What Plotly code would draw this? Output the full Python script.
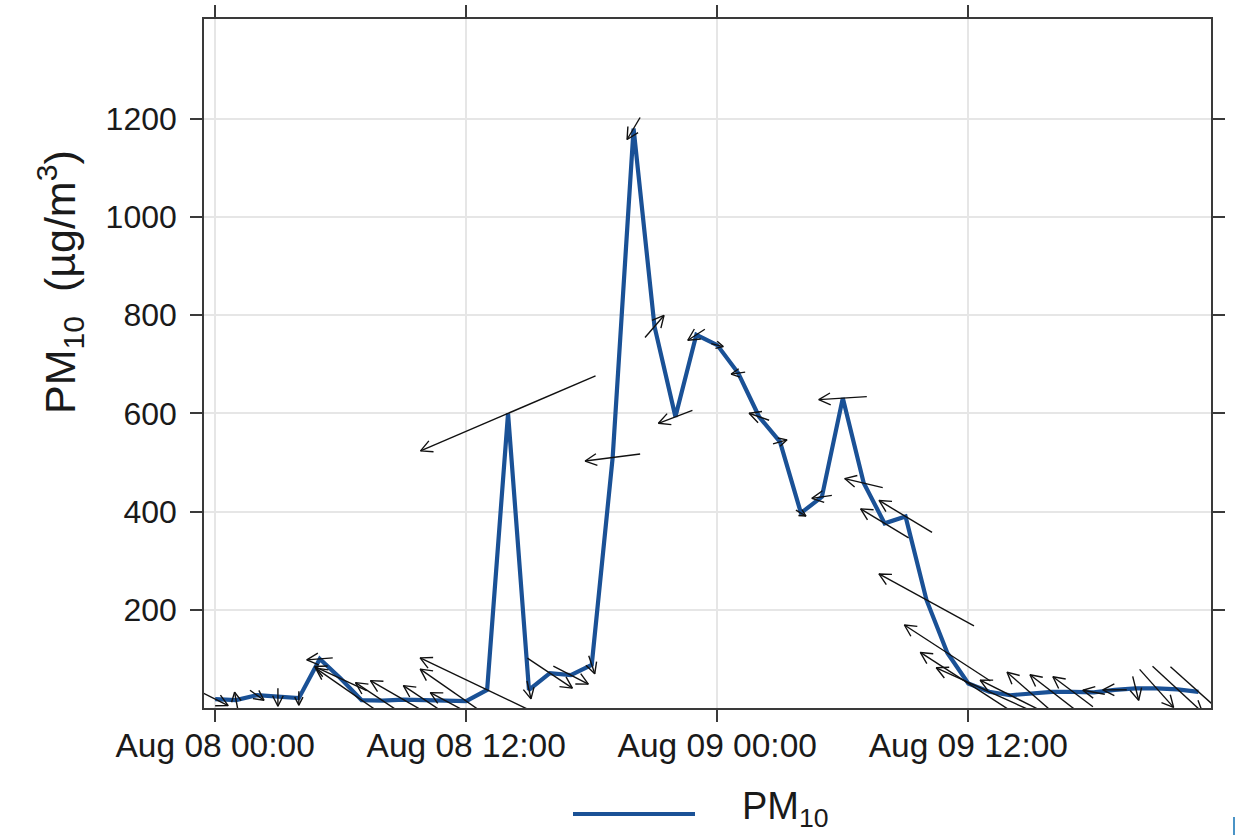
import math
import pandas as pd
import plotly.graph_objects as go

# Hourly PM10 concentration (µg/m³), 8–9 August
times = pd.date_range("2019-08-08 00:00", periods=48, freq="h")
pm10 = [18, 16, 26, 22, 20, 100, 60, 16, 15, 17, 17, 15, 14, 37, 600, 37,
        71, 67, 88, 510, 1180, 777, 593, 760, 739, 682, 593, 542, 397, 430,
        631, 458, 376, 390, 220, 112, 50, 33, 26, 30, 33, 33, 32, 37, 40, 40,
        38, 33]

# Hourly wind vector components (m/s): u = eastward, v = northward
wind_u = [1.3, -0.15, 0.7, 0.0, 0.0, -1.3, -2.6, -4.6, -2.7, -3.3, -2.1, -1.5,
          -4.6, -6.7, -8.75, 0.2, 2.25, 1.75, 0.3, -2.75, -0.65, 0.95, -1.7,
          -0.85, 0.6, -0.7, -1.0, 0.7, 0.5, -1.0, -2.4, -1.9, -2.4, -2.65,
          -4.75, -4.3, -4.8, -5.3, -3.0, -2.4, -2.2, -2.0, -1.1, -1.2, 0.3,
          1.7, 2.5, 2.8]
wind_v = [-0.65, 0.8, -0.5, -0.9, -0.7, -0.1, 1.2, 3.2, 1.8, 1.9, 1.4, 0.8,
          3.2, 3.2, -3.75, -0.9, -1.5, -0.9, -0.9, -0.35, -1.1, 1.1, -0.65,
          -0.55, -0.15, -0.1, 0.35, 0.2, -0.3, -0.15, -0.15, 0.45, 1.45, 1.6,
          2.6, 2.8, 3.1, 2.4, 1.5, 2.1, 1.7, 1.5, 0.2, 0.0, -1.2, -1.9, -2.3,
          -2.5]

tick_times = [times[0], times[12], times[24], times[36]]
tick_labels = ["Aug 08 00:00", "Aug 08 12:00", "Aug 09 00:00", "Aug 09 12:00"]
y_ticks = [200, 400, 600, 800, 1000, 1200]

# Figure geometry
W, H = 1237, 835
M = dict(l=204, r=26, t=19, b=127)
plot_w = W - M["l"] - M["r"]
plot_h = H - M["t"] - M["b"]
x_lo = times[0] - pd.Timedelta(minutes=32)
x_hi = times[0] + pd.Timedelta(minutes=int(47.6 * 60))
y_lo, y_hi = 0, 1403

px_per_ms = plot_w / ((x_hi - x_lo).total_seconds() * 1000.0)
px_per_ug = plot_h / (y_hi - y_lo)

ARROW_SCALE = 20.0   # pixels per m/s
HEAD_LEN = 13.0      # pixels
HEAD_ANG = math.radians(27)


def offset_point(t, val, dx_px, dy_px):
    """Shift a data point by a screen-pixel offset (dy_px positive = up)."""
    return (t + pd.Timedelta(milliseconds=dx_px / px_per_ms),
            val + dy_px / px_per_ug)


arrow_x, arrow_y = [], []
for t, val, u, v in zip(times, pm10, wind_u, wind_v):
    vx, vy = u * ARROW_SCALE, v * ARROW_SCALE      # screen vector, y up
    length = math.hypot(vx, vy)
    if length < 1e-6:
        continue
    tail = offset_point(t, val, -vx / 2, -vy / 2)
    head = offset_point(t, val, vx / 2, vy / 2)
    arrow_x += [tail[0], head[0], None]
    arrow_y += [tail[1], head[1], None]
    # open arrow head: two barbs swept back from the tip
    ang = math.atan2(vy, vx)
    hl = min(HEAD_LEN, 0.65 * length)
    barbs = []
    for s in (1, -1):
        a = ang + math.pi + s * HEAD_ANG
        barbs.append(offset_point(t, val,
                                  vx / 2 + hl * math.cos(a),
                                  vy / 2 + hl * math.sin(a)))
    arrow_x += [barbs[0][0], head[0], barbs[1][0], None]
    arrow_y += [barbs[0][1], head[1], barbs[1][1], None]

LINE_BLUE = "#1a5196"
AXIS_COL = "#3a3a3a"
GRID_COL = "#e6e6e6"
FONT = "Liberation Sans, Arial, sans-serif"

fig = go.Figure()
fig.add_trace(go.Scatter(
    x=times, y=pm10, mode="lines", name="PM10",
    line=dict(color=LINE_BLUE, width=4.2), showlegend=False,
))
fig.add_trace(go.Scatter(
    x=arrow_x, y=arrow_y, mode="lines", name="wind",
    line=dict(color="#111111", width=1.4), showlegend=False,
    hoverinfo="skip",
))

axis_common = dict(
    showline=True, linecolor=AXIS_COL, linewidth=1.6, mirror="allticks",
    ticks="outside", ticklen=12, tickwidth=1.6, tickcolor=AXIS_COL,
    showgrid=True, gridcolor=GRID_COL, gridwidth=2, zeroline=False,
    automargin=False,
)

fig.update_xaxes(
    type="date", range=[x_lo, x_hi], tickmode="array",
    tickvals=tick_times, ticktext=tick_labels, ticklabelstandoff=-5,
    tickfont=dict(family=FONT, size=33.5, color="#1a1a1a"),
    **axis_common,
)
fig.update_yaxes(
    range=[y_lo, y_hi], tickmode="array", tickvals=y_ticks,
    ticklabelstandoff=7,
    tickfont=dict(family=FONT, size=32, color="#1a1a1a"),
    **axis_common,
)

# Y-axis title
fig.add_annotation(
    text="PM<sub>10</sub>\u00a0\u00a0(µg/m<sup>3</sup>)",
    xref="paper", yref="paper", x=(60 - M["l"]) / plot_w,
    y=(M["t"] + plot_h - 282) / plot_h, textangle=-90,
    showarrow=False, xanchor="center", yanchor="middle",
    font=dict(family=FONT, size=43, color="#1a1a1a"),
)

# Legend key
leg_y = (M["t"] + plot_h - 814) / plot_h
fig.add_shape(
    type="line", xref="paper", yref="paper",
    x0=(573 - M["l"]) / plot_w, x1=(695 - M["l"]) / plot_w,
    y0=leg_y, y1=leg_y, line=dict(color=LINE_BLUE, width=4),
)
fig.add_annotation(
    text="PM<sub>10</sub>", xref="paper", yref="paper",
    x=(740 - M["l"]) / plot_w, y=(M["t"] + plot_h - 809) / plot_h,
    xanchor="left", yanchor="middle", showarrow=False,
    font=dict(family=FONT, size=38, color="#1a1a1a"),
)
# small mark at lower-right corner
fig.add_shape(
    type="line", xref="paper", yref="paper",
    x0=(1234 - M["l"]) / plot_w, x1=(1234 - M["l"]) / plot_w,
    y0=(M["t"] + plot_h - 817) / plot_h, y1=(M["t"] + plot_h - 835) / plot_h,
    line=dict(color="#4a93c6", width=2),
)

fig.update_layout(
    width=W, height=H, margin=M,
    paper_bgcolor="white", plot_bgcolor="white",
    font=dict(family=FONT, color="#1a1a1a"),
)

fig.write_html("out.html")
